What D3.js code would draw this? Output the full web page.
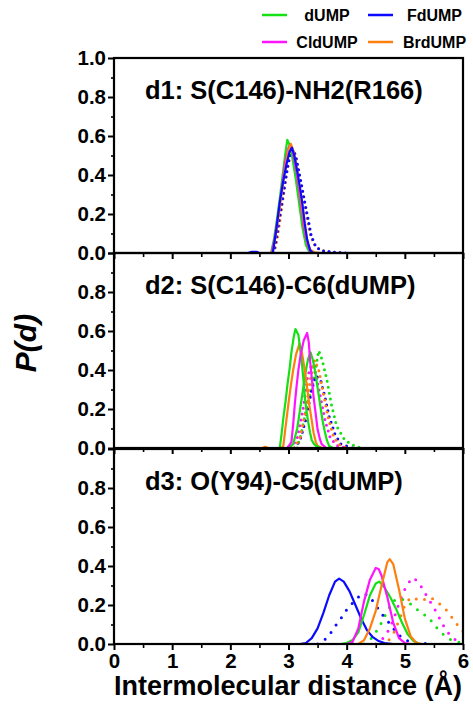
<!DOCTYPE html>
<html>
<head>
<meta charset="utf-8">
<script src="https://cdn.jsdelivr.net/npm/d3@7"></script>
<style>
body { margin: 0; background: #fff; }
text { font-family: "Liberation Sans", Arial, sans-serif; font-weight: bold; fill: #000; }
</style>
</head>
<body>
<div id="chart"></div>
<script>
// Tick labels, titles, legend
const xTicks = [0, 1, 2, 3, 4, 5, 6];
const xMinor = [0.5, 1.5, 2.5, 3.5, 4.5, 5.5];
const yTicks = [0, 0.2, 0.4, 0.6, 0.8, 1.0];
const yMinor = [0.1, 0.3, 0.5, 0.7, 0.9];
const panelTitles = ["d1: S(C146)-NH2(R166)", "d2: S(C146)-C6(dUMP)", "d3: O(Y94)-C5(dUMP)"];
const systems = ["dUMP", "FdUMP", "CldUMP", "BrdUMP"];
const systemColors = ["#14e014", "#0a0aff", "#ff14ff", "#ff7f0e"];

// d1 : solid curves [distance, P(d)]
const d1_dUMP = [[2.6,0],[2.70,0],[2.75,0.07],[2.80,0.17],[2.85,0.28],[2.90,0.40],[2.95,0.52],[2.98,0.58],[3.01,0.56],[3.06,0.50],[3.12,0.39],[3.18,0.26],[3.24,0.13],[3.30,0.04],[3.35,0.01],[3.42,0],[3.6,0]];
const d1_CldUMP = [[2.6,0],[2.71,0],[2.76,0.07],[2.82,0.19],[2.88,0.32],[2.94,0.46],[3.00,0.54],[3.03,0.555],[3.08,0.51],[3.14,0.41],[3.20,0.28],[3.26,0.14],[3.32,0.05],[3.37,0.01],[3.45,0],[3.6,0]];
const d1_BrdUMP = [[2.6,0],[2.72,0],[2.77,0.07],[2.83,0.19],[2.89,0.32],[2.95,0.45],[3.00,0.53],[3.04,0.56],[3.09,0.52],[3.15,0.42],[3.21,0.29],[3.27,0.15],[3.33,0.05],[3.38,0.015],[3.45,0.003],[3.55,0]];
const d1_FdUMP = [[2.30,0],[2.37,0.006],[2.45,0.006],[2.50,0],[2.73,0],[2.79,0.12],[2.85,0.26],[2.91,0.37],[2.97,0.46],[3.02,0.52],[3.06,0.54],[3.10,0.50],[3.15,0.42],[3.20,0.33],[3.24,0.25],[3.28,0.15],[3.32,0.07],[3.37,0.015],[3.42,0],[3.6,0]];
// d1 : dotted curves
const d1_FdUMP_dot = [[2.74,0],[2.77,0.04],[2.81,0.11],[2.85,0.19],[2.90,0.28],[2.94,0.36],[2.99,0.45],[3.03,0.51],[3.08,0.53],[3.12,0.50],[3.17,0.43],[3.23,0.34],[3.28,0.26],[3.34,0.17],[3.39,0.09],[3.45,0.045],[3.50,0.025],[3.60,0.01],[3.80,0.004],[4.0,0]];
const d1_BrdUMP_dot = [[2.75,0],[2.80,0.06],[2.86,0.18],[2.92,0.31],[2.98,0.43],[3.04,0.51],[3.09,0.53],[3.14,0.48],[3.20,0.38],[3.26,0.28],[3.32,0.17],[3.38,0.09],[3.44,0.045],[3.50,0.025],[3.60,0.012],[3.70,0.005],[3.9,0]];

// d2 : solid curves
const d2_dUMP = [[2.80,0],[2.85,0],[2.88,0.07],[2.91,0.15],[2.95,0.24],[2.98,0.32],[3.02,0.41],[3.05,0.49],[3.09,0.57],[3.12,0.61],[3.17,0.58],[3.20,0.51],[3.23,0.435],[3.26,0.34],[3.28,0.265],[3.31,0.19],[3.34,0.13],[3.37,0.08],[3.40,0.04],[3.44,0.02],[3.48,0.01],[3.55,0]];
const d2_dUMP_b = [[3.00,0],[3.08,0.02],[3.15,0.10],[3.20,0.20],[3.25,0.30],[3.30,0.40],[3.34,0.46],[3.38,0.49],[3.42,0.45],[3.46,0.39],[3.50,0.31],[3.54,0.23],[3.58,0.15],[3.62,0.09],[3.66,0.04],[3.70,0.01],[3.76,0]];
const d2_CldUMP = [[2.98,0],[3.05,0.03],[3.08,0.12],[3.11,0.23],[3.14,0.32],[3.17,0.40],[3.21,0.48],[3.26,0.55],[3.32,0.59],[3.35,0.54],[3.37,0.45],[3.40,0.36],[3.43,0.265],[3.47,0.17],[3.50,0.096],[3.54,0.045],[3.57,0.02],[3.65,0]];
const d2_BrdUMP = [[2.55,0],[2.60,0.006],[2.65,0],[2.88,0],[2.91,0.01],[2.95,0.11],[3.00,0.23],[3.04,0.32],[3.08,0.40],[3.13,0.48],[3.19,0.535],[3.23,0.49],[3.28,0.40],[3.32,0.31],[3.36,0.215],[3.40,0.14],[3.43,0.08],[3.47,0.03],[3.50,0.01],[3.58,0]];
// d2 : dotted curves
const d2_dUMP_dot = [[3.15,0],[3.23,0.09],[3.31,0.21],[3.40,0.30],[3.45,0.38],[3.52,0.50],[3.58,0.45],[3.66,0.35],[3.74,0.22],[3.83,0.11],[3.97,0.04],[4.14,0.01],[4.25,0]];
const d2_FdUMP_dot = [[3.10,0],[3.20,0.04],[3.30,0.15],[3.40,0.30],[3.47,0.37],[3.55,0.35],[3.62,0.27],[3.70,0.16],[3.80,0.07],[3.90,0.02],[4.10,0]];
const d2_CldUMP_dot = [[3.05,0],[3.15,0.05],[3.25,0.20],[3.33,0.37],[3.40,0.43],[3.47,0.38],[3.55,0.26],[3.63,0.14],[3.72,0.05],[3.85,0.01],[4.0,0]];
const d2_BrdUMP_dot = [[3.10,0],[3.20,0.05],[3.30,0.20],[3.38,0.36],[3.45,0.45],[3.52,0.40],[3.60,0.28],[3.68,0.16],[3.76,0.07],[3.85,0.02],[4.0,0]];

// d3 : solid curves
const d3_dUMP = [[3.90,0],[4.00,0.005],[4.10,0.02],[4.20,0.06],[4.30,0.15],[4.40,0.25],[4.50,0.31],[4.56,0.32],[4.65,0.29],[4.75,0.24],[4.85,0.18],[4.95,0.11],[5.05,0.05],[5.15,0.015],[5.25,0]];
const d3_FdUMP = [[3.20,0],[3.30,0.005],[3.40,0.03],[3.50,0.08],[3.60,0.16],[3.70,0.25],[3.80,0.32],[3.87,0.335],[3.95,0.32],[4.05,0.27],[4.15,0.20],[4.25,0.13],[4.35,0.07],[4.45,0.035],[4.55,0.015],[4.65,0.005],[4.80,0]];
const d3_CldUMP = [[4.00,0],[4.10,0.01],[4.20,0.08],[4.30,0.22],[4.40,0.33],[4.50,0.39],[4.55,0.385],[4.60,0.35],[4.70,0.24],[4.80,0.11],[4.90,0.03],[5.00,0.005],[5.10,0]];
const d3_BrdUMP = [[4.20,0],[4.30,0.02],[4.40,0.08],[4.50,0.17],[4.60,0.30],[4.70,0.42],[4.74,0.435],[4.80,0.41],[4.90,0.28],[5.00,0.13],[5.10,0.04],[5.20,0.005],[5.30,0]];
// d3 : dotted curves
const d3_dUMP_dot = [[4.30,0],[4.40,0.02],[4.50,0.06],[4.60,0.11],[4.70,0.17],[4.80,0.22],[4.90,0.235],[5.00,0.225],[5.10,0.205],[5.20,0.18],[5.30,0.155],[5.40,0.14],[5.50,0.10],[5.60,0.065],[5.70,0.04],[5.80,0.02],[5.90,0.01],[6.00,0.005]];
const d3_FdUMP_dot = [[3.50,0],[3.60,0.015],[3.70,0.045],[3.80,0.09],[3.90,0.13],[4.00,0.175],[4.10,0.21],[4.20,0.24],[4.30,0.26],[4.40,0.24],[4.50,0.20],[4.60,0.155],[4.70,0.12],[4.80,0.08],[4.90,0.045],[5.00,0.022],[5.10,0.01],[5.30,0.003],[5.50,0]];
const d3_CldUMP_dot = [[4.50,0],[4.60,0.02],[4.70,0.06],[4.80,0.12],[4.90,0.21],[5.00,0.28],[5.10,0.33],[5.15,0.34],[5.25,0.31],[5.35,0.26],[5.45,0.21],[5.55,0.16],[5.65,0.10],[5.75,0.055],[5.85,0.025],[5.95,0.008],[6.00,0.005]];
const d3_BrdUMP_dot = [[4.60,0],[4.70,0.01],[4.80,0.05],[4.90,0.12],[5.00,0.20],[5.10,0.24],[5.20,0.23],[5.30,0.22],[5.40,0.24],[5.50,0.23],[5.60,0.205],[5.70,0.18],[5.80,0.14],[5.90,0.10],[6.00,0.065],[6.10,0.03]];

// series lists: [points, system index]
const panels = [
  { title: panelTitles[0], dotGap: 5.5,
    dotted: [[d1_BrdUMP_dot, 3], [d1_FdUMP_dot, 1]],
    solid: [[d1_dUMP, 0], [d1_CldUMP, 2], [d1_BrdUMP, 3], [d1_FdUMP, 1]] },
  { title: panelTitles[1], dotGap: 6,
    dotted: [[d2_dUMP_dot, 0], [d2_FdUMP_dot, 1], [d2_CldUMP_dot, 2], [d2_BrdUMP_dot, 3]],
    solid: [[d2_dUMP_b, 0], [d2_BrdUMP, 3], [d2_dUMP, 0], [d2_CldUMP, 2]] },
  { title: panelTitles[2], dotGap: 9,
    dotted: [[d3_dUMP_dot, 0], [d3_FdUMP_dot, 1], [d3_CldUMP_dot, 2], [d3_BrdUMP_dot, 3]],
    solid: [[d3_FdUMP, 1], [d3_dUMP, 0], [d3_CldUMP, 2], [d3_BrdUMP, 3]] }
];

const width = 473, height = 705;
const left = 114, right = 463;
const panelTop = [58, 253, 449];
const panelH = 195;

const svg = d3.select("#chart").append("svg")
  .attr("width", width)
  .attr("height", height);

const x = d3.scaleLinear().domain([0, 6]).range([left, right]);

svg.append("defs").selectAll("clipPath")
  .data(panelTop)
  .join("clipPath")
  .attr("id", (d, i) => "clip" + i)
  .append("rect")
  .attr("x", left).attr("y", d => d)
  .attr("width", right - left).attr("height", panelH);

panels.forEach((p, i) => {
  const top = panelTop[i], bottom = top + panelH;
  const y = d3.scaleLinear().domain([0, 1]).range([bottom, top]);
  const g = svg.append("g");

  const line = d3.line().x(d => x(d[0])).y(d => y(d[1]));
  const plot = g.append("g").attr("clip-path", `url(#clip${i})`);

  plot.selectAll("path.dot")
    .data(p.dotted)
    .join("path")
    .attr("class", "dot")
    .attr("d", d => line(d[0]))
    .attr("fill", "none")
    .attr("stroke", d => systemColors[d[1]])
    .attr("stroke-width", 3)
    .attr("stroke-linecap", "round")
    .attr("stroke-dasharray", `0 ${p.dotGap}`);

  plot.selectAll("path.solid")
    .data(p.solid)
    .join("path")
    .attr("class", "solid")
    .attr("d", d => line(d[0]))
    .attr("fill", "none")
    .attr("stroke", d => systemColors[d[1]])
    .attr("stroke-width", 2.2)
    .attr("stroke-linejoin", "round");

  // frame
  g.append("rect")
    .attr("x", left).attr("y", top)
    .attr("width", right - left).attr("height", panelH)
    .attr("fill", "none").attr("stroke", "#000").attr("stroke-width", 2.2);

  // y axis
  const yAxis = g.append("g")
    .attr("transform", `translate(${left},0)`)
    .call(d3.axisLeft(y).tickValues(yTicks)
      .tickSize(6).tickPadding(2)
      .tickFormat(d => (i > 0 && d === 1) ? "" : d3.format(".1f")(d)));
  yAxis.select(".domain").remove();
  yAxis.selectAll("line").attr("stroke-width", 2);
  yAxis.selectAll("text").attr("font-size", 20.5).attr("font-family", null).style("font-weight", "bold");

  const yMin = g.append("g")
    .attr("transform", `translate(${left},0)`)
    .call(d3.axisLeft(y).tickValues(yMinor).tickSize(3).tickFormat(""));
  yMin.select(".domain").remove();
  yMin.selectAll("line").attr("stroke-width", 1.6);

  // x axis
  const xAxis = g.append("g")
    .attr("transform", `translate(0,${bottom})`)
    .call(d3.axisBottom(x).tickValues(xTicks).tickSize(6).tickPadding(3)
      .tickFormat(i === 2 ? d3.format("d") : ""));
  xAxis.select(".domain").remove();
  xAxis.selectAll("line").attr("stroke-width", 2);
  xAxis.selectAll("text").attr("font-size", 20.5).attr("font-family", null).style("font-weight", "bold");

  const xMin = g.append("g")
    .attr("transform", `translate(0,${bottom})`)
    .call(d3.axisBottom(x).tickValues(xMinor).tickSize(4).tickFormat(""));
  xMin.select(".domain").remove();
  xMin.selectAll("line").attr("stroke-width", 1.6);

  // panel title
  g.append("text")
    .attr("x", 145).attr("y", top + 41)
    .attr("font-size", 25.5)
    .text(p.title);
});

// axis titles
svg.append("text")
  .attr("transform", "translate(36,343) rotate(-90)")
  .attr("text-anchor", "middle")
  .attr("font-size", 30)
  .style("font-style", "italic")
  .text("P(d)");

svg.append("text")
  .attr("x", 288).attr("y", 695)
  .attr("text-anchor", "middle")
  .attr("font-size", 27)
  .text("Intermolecular distance (Å)");

// legend
const legendPos = [[262, 15], [368, 15], [262, 42], [368, 42]];
const legendText = [327, 434.5, 327, 434.5];
const legendOrder = [0, 1, 2, 3];
const lg = svg.append("g");
lg.selectAll("line")
  .data(legendOrder)
  .join("line")
  .attr("x1", (d, k) => legendPos[k][0])
  .attr("x2", (d, k) => legendPos[k][0] + 25)
  .attr("y1", (d, k) => legendPos[k][1])
  .attr("y2", (d, k) => legendPos[k][1])
  .attr("stroke", d => systemColors[d])
  .attr("stroke-width", 2.5);
lg.selectAll("text")
  .data(legendOrder)
  .join("text")
  .attr("x", (d, k) => legendText[k])
  .attr("y", (d, k) => legendPos[k][1] + 6)
  .attr("text-anchor", "middle")
  .attr("font-size", 16)
  .text(d => systems[d]);
</script>
</body>
</html>
